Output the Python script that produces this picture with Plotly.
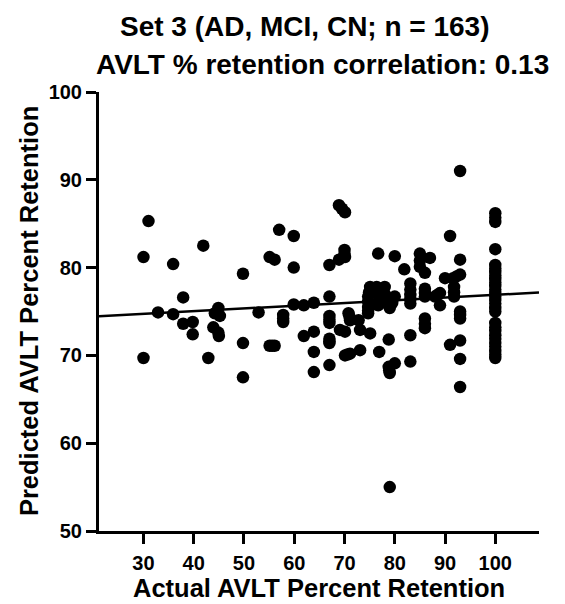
import numpy as np
import plotly.graph_objects as go

# Actual vs. predicted AVLT percent retention (one point per participant)
actual = [
    30.0, 31.0, 30.0, 32.9, 35.9, 35.9, 37.9, 37.9, 39.8, 39.8,
    41.9, 42.9, 44.9, 44.2, 45.2, 43.9, 44.9, 45.0, 49.8, 49.8,
    49.8, 52.9, 55.1, 56.1, 55.1, 56.1, 57.0, 57.8, 57.8, 59.9,
    59.9, 59.9, 61.9, 61.9, 63.9, 63.9, 63.9, 63.9, 67.0, 67.0,
    67.0, 67.0, 67.0, 67.0, 67.0, 68.9, 69.1, 68.9, 70.1, 70.0,
    70.1, 70.8, 71.1, 70.1, 72.8, 73.1, 70.1, 71.1, 73.1, 75.1,
    75.1, 74.7, 74.7, 74.7, 76.7, 80.0, 76.4, 78.0, 77.0, 78.0,
    80.0, 79.0, 76.7, 78.8, 76.9, 78.8, 80.0, 79.0, 79.0, 81.9,
    83.1, 83.1, 83.1, 83.1, 83.1, 85.0, 87.0, 85.0, 86.0, 86.0,
    86.0, 86.0, 86.0, 88.0, 89.0, 89.0, 90.0, 93.0, 91.0, 93.0,
    91.6, 93.0, 91.8, 91.8, 93.0, 93.0, 91.0, 93.0, 93.0, 93.0,
    # overlapping points inside the dense clusters
    74.7, 74.7, 74.9, 76.7, 78.0, 76.9, 78.5, 79.5, 83.1, 83.1,
    86.0, 86.0, 85.0, 67.0, 67.0, 71.0, 70.6, 93.0, 91.8, 92.3,
    88.5, 78.9, 57.8, 55.6, 44.7, 70.0, 69.5,
    # participants with 100 % retention
    100, 100, 100, 100, 100, 100, 100, 100, 100, 100,
    100, 100, 100, 100, 100, 100, 100, 100, 100, 100,
    100, 100, 100, 100, 100, 100, 100, 100,
]
predicted = [
    81.2, 85.3, 69.7, 74.9, 80.4, 74.7, 76.6, 73.6, 73.8, 72.4,
    82.5, 69.7, 75.4, 74.8, 74.5, 73.2, 72.6, 72.2, 79.3, 71.4,
    67.5, 74.9, 81.2, 80.9, 71.1, 71.1, 84.3, 74.6, 73.8, 83.6,
    80.0, 75.8, 75.7, 72.2, 76.0, 72.7, 70.4, 68.1, 80.3, 76.7,
    74.5, 73.7, 71.9, 71.4, 68.9, 80.9, 72.9, 87.1, 86.3, 82.0,
    81.2, 74.8, 74.0, 72.7, 74.0, 72.9, 70.0, 70.2, 70.6, 72.5,
    77.8, 76.7, 75.5, 74.8, 81.6, 81.3, 77.8, 77.8, 76.7, 76.3,
    76.7, 75.4, 75.7, 71.8, 70.4, 68.7, 69.1, 68.0, 55.0, 79.8,
    78.2, 76.9, 75.9, 72.3, 69.3, 81.6, 81.1, 80.1, 79.4, 77.6,
    76.7, 74.2, 73.1, 76.7, 77.1, 75.7, 78.8, 91.0, 83.6, 80.9,
    78.8, 79.2, 77.8, 76.7, 75.0, 74.2, 71.2, 71.7, 69.6, 66.4,
    75.1, 76.1, 77.2, 77.2, 77.0, 76.2, 75.9, 76.0, 76.4, 77.5,
    77.1, 73.6, 80.8, 74.1, 71.6, 74.4, 70.1, 74.6, 77.2, 79.0,
    76.9, 68.3, 74.2, 71.1, 74.9, 81.6, 86.7,
    86.2, 85.7, 85.2, 82.1, 80.3, 79.9, 79.5, 79.1, 78.7, 78.3,
    77.9, 77.5, 77.1, 76.7, 76.3, 75.9, 75.4, 75.0, 73.7, 73.2,
    72.8, 72.3, 71.9, 71.4, 71.0, 70.5, 70.1, 69.7,
]

# Least-squares fit of predicted on actual
fit_slope = 0.031
fit_intercept = 73.8

x_ticks = [30, 40, 50, 60, 70, 80, 90, 100]
y_ticks = [50, 60, 70, 80, 90, 100]
x_range = [21.15, 108.7]
y_range = [50, 100]

title_line1 = "Set 3 (AD, MCI, CN; n = 163)"
title_line2 = "AVLT % retention correlation: 0.13"
x_title = "Actual AVLT Percent Retention"
y_title = "Predicted AVLT Percent Retention"

FONT = "Liberation Sans, Arial, Helvetica, sans-serif"

fig = go.Figure()
fig.add_trace(go.Scatter(
    x=actual, y=predicted, mode="markers",
    marker=dict(color="black", size=12.5, line=dict(width=0)),
    hoverinfo="skip",
))
fit_x = np.array(x_range)
fig.add_trace(go.Scatter(
    x=fit_x, y=fit_intercept + fit_slope * fit_x, mode="lines",
    line=dict(color="black", width=2.5),
    hoverinfo="skip",
))

axis_style = dict(
    showline=True, linecolor="black", linewidth=3,
    ticks="outside", ticklen=10, tickwidth=2.5, tickcolor="black",
    showgrid=False, zeroline=False,
    tickfont=dict(family=FONT, size=20, color="black", weight="bold"),
)

fig.update_layout(
    width=565, height=604,
    margin=dict(l=99, r=26, t=92, b=73),
    plot_bgcolor="white", paper_bgcolor="white",
    showlegend=False,
    xaxis=dict(range=x_range, tickvals=x_ticks, ticklabelstandoff=2, **axis_style),
    yaxis=dict(range=y_range, tickvals=y_ticks, **axis_style),
)

title_font = dict(family=FONT, size=28, color="black", weight="bold")
label_font = dict(family=FONT, size=25.5, color="black", weight="bold")

fig.add_annotation(text=title_line1, xref="paper", yref="paper",
                   x=0.468, y=1.150, xanchor="center", yanchor="middle",
                   showarrow=False, font=title_font)
fig.add_annotation(text=title_line2, xref="paper", yref="paper",
                   x=0.507, y=1.062, xanchor="center", yanchor="middle",
                   showarrow=False, font=title_font)
fig.add_annotation(text=x_title, xref="paper", yref="paper",
                   x=0.5, y=-0.130, xanchor="center", yanchor="middle",
                   showarrow=False, font=label_font)
fig.add_annotation(text=y_title, xref="paper", yref="paper",
                   x=-0.160, y=0.5, xanchor="center", yanchor="middle",
                   textangle=-90, showarrow=False, font=label_font)

fig.write_html("out.html")
